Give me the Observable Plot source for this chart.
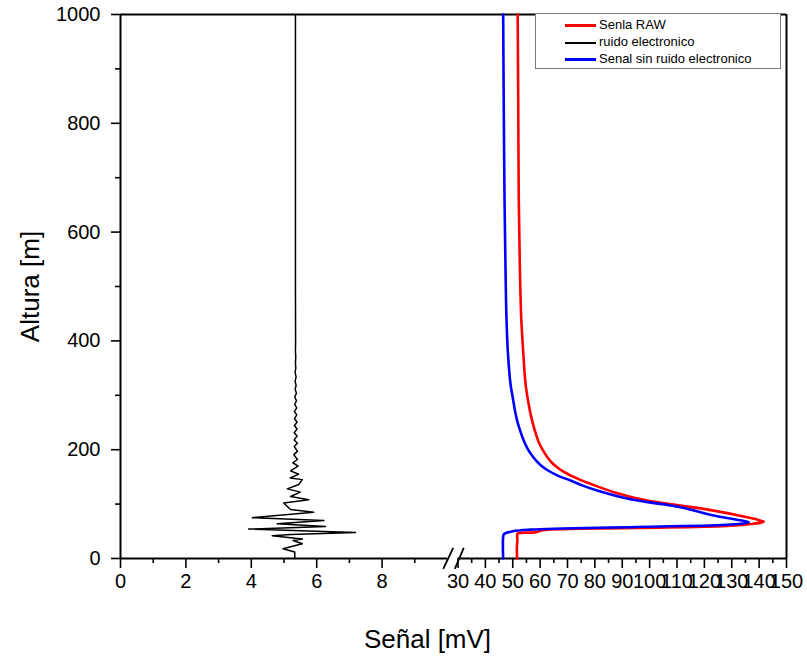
<!DOCTYPE html>
<html>
<head>
<meta charset="utf-8">
<script src="https://cdn.jsdelivr.net/npm/d3@7"></script>
<script src="https://cdn.jsdelivr.net/npm/@observablehq/plot@0.6"></script>
<style>
  body { margin: 0; background: #fff; }
  #wrap { position: relative; width: 807px; height: 660px; font-family: "Liberation Sans", Arial, sans-serif; color: #000; }
  .legend { position: absolute; left: 535px; top: 13px; width: 246px; height: 56px; border: 1px solid #7a7a7a; background: #fff; box-sizing: border-box; }
  .row { position: absolute; left: 29px; height: 16px; font-size: 13px; line-height: 16px; white-space: nowrap; }
  .row span.sw { display: inline-block; width: 31px; vertical-align: middle; margin-right: 3px; }
</style>
</head>
<body>
<div id="wrap"></div>
<script>
// ---- data ----
const seriesNames = ["Senla RAW", "ruido electronico", "Senal sin ruido electronico"];

const noiseY = [0, 5, 12, 18, 27, 33, 36, 42, 44, 48, 54, 59, 64, 70, 75, 85, 90, 102, 108, 114,
  122, 128, 136, 145, 148, 155, 161, 170, 176, 182, 191, 197, 206, 212, 218, 225, 231, 238, 244, 251, 257,
  264, 270, 277, 283, 290, 297, 304, 311, 318, 326, 334, 342, 350, 360, 370, 380, 400, 500, 700, 1000];
const noiseX = [5.33, 5.33, 5.33, 4.97, 5.56, 5.28, 5.56, 4.64, 5.21, 7.19, 3.92, 6.27, 4.79, 6.22, 4.03, 5.91, 5.2, 4.99, 5.76, 5.2,
  5.5, 5.1, 5.45, 5.56, 5.19, 5.45, 5.2, 5.43, 5.27, 5.41, 5.3, 5.41, 5.31, 5.41, 5.31, 5.40, 5.31, 5.40, 5.32, 5.40, 5.32,
  5.39, 5.32, 5.39, 5.33, 5.38, 5.33, 5.38, 5.34, 5.37, 5.34, 5.37, 5.34, 5.36, 5.35, 5.36, 5.35, 5.355, 5.35, 5.35, 5.35];

const redY = [0, 20, 35, 42, 46, 48, 52, 56, 60, 64, 67.6, 72, 76, 88, 97, 106.6, 121.9, 137.3, 145, 152.6, 160, 167.9, 176,
  186.4, 200, 213.8, 241.4, 265.9, 290, 320, 381, 442, 534, 658, 842, 1000];
const redX = [51.6, 51.5, 51.7, 51.6, 51.8, 58, 61, 95, 128, 138, 141.7, 139, 135.6, 123.4, 112, 99.1, 86.9, 78.4, 74.5, 71.1, 68.4, 66.2, 64.3,
  62.6, 60.9, 59.5, 57.7, 56.5, 55.6, 54.7, 53.8, 53.1, 52.6, 52.2, 52.0, 51.8];

const blueY = [0, 20, 40, 45, 50, 53, 58, 62.5, 66.8, 72, 79, 94.3, 108.8, 125, 134, 143.4, 152, 161.8, 172, 186.2, 200, 216.9, 235, 253.7, 272,
  290, 320, 381, 442.6, 534.5, 658, 842, 1000];
const blueX = [46.5, 46.4, 46.5, 46.8, 50, 56.5, 95, 129.5, 136.2, 131, 123.4, 111.3, 93.0, 80.8, 75.6, 71.1, 66.6, 62.9, 60.1, 57.5, 55.6, 54.0, 52.7, 51.6, 50.8,
  50.2, 49.2, 48.2, 47.7, 47.35, 47.0, 46.7, 46.5];

// axis ticks (broken x axis: 0–10 | 30–150)
const xMajorTicks = [0, 2, 4, 6, 8, 30, 40, 50, 60, 70, 80, 90, 100, 110, 120, 130, 140, 150];
const xMinorTicks = [1, 3, 5, 7, 9, 35, 45, 55, 65, 75, 85, 95, 105, 115, 125, 135, 145];
const yMajorTicks = [0, 200, 400, 600, 800, 1000];
const yMinorTicks = [100, 300, 500, 700, 900];
const xSegments = [[0, 10], [30, 150]];
const breakMarks = [
  {x1: 9.87, y1: -19, x2: 20.9, y2: 19.5},
  {x1: 23.9, y1: -19, x2: 32.1, y2: 19.5}
];

const zip = (xs, ys) => xs.map((v, i) => ({x: v, y: ys[i]}));
const red = zip(redX, redY);
const blue = zip(blueX, blueY);
const noise = zip(noiseX, noiseY);

const chart = Plot.plot({
  width: 807,
  height: 660,
  marginLeft: 120,
  marginRight: 21,
  marginTop: 14,
  marginBottom: 102,
  style: {fontFamily: "'Liberation Sans', Arial, sans-serif", fontSize: "20px", color: "#000", background: "#fff"},
  x: {type: "linear", domain: [0, 10, 30, 150], range: [120, 447, 457.5, 786]},
  y: {domain: [0, 1000]},
  marks: [
    // frame (top, left, right) and broken bottom axis
    Plot.ruleY([1000], {stroke: "#000", strokeWidth: 2}),
    Plot.ruleX([0, 150], {stroke: "#000", strokeWidth: 2}),
    Plot.ruleY(xSegments, {y: () => 0, x1: d => d[0], x2: d => d[1], stroke: "#000", strokeWidth: 2}),
    Plot.link(breakMarks, {x1: "x1", y1: "y1", x2: "x2", y2: "y2", stroke: "#000", strokeWidth: 1.8}),
    // axes
    Plot.axisX({ticks: xMajorTicks, tickFormat: d => String(d), tickSize: 10, tickPadding: 5, label: null, strokeWidth: 1.6, fill: "#000"}),
    Plot.axisX({ticks: xMinorTicks, tickSize: 5, text: null, label: null, strokeWidth: 1.6}),
    Plot.axisY({ticks: yMajorTicks, tickFormat: d => String(d), tickSize: 9, tickPadding: 11, label: null, strokeWidth: 1.6, fill: "#000"}),
    Plot.axisY({ticks: yMinorTicks, tickSize: 5, text: null, label: null, strokeWidth: 1.6}),
    // titles
    Plot.text(["Altura [m]"], {text: d => d, frameAnchor: "left", textAnchor: "middle", lineAnchor: "middle", rotate: -90, dx: -90, fontSize: 26, fill: "#000"}),
    Plot.text(["Señal [mV]"], {text: d => d, frameAnchor: "bottom", textAnchor: "middle", lineAnchor: "middle", dx: -26, dy: 81, fontSize: 26, fill: "#000"}),
    // data
    Plot.line(noise, {x: "x", y: "y", stroke: "#000", strokeWidth: 1.5}),
    Plot.line(red, {x: "x", y: "y", stroke: "#ff0000", strokeWidth: 2.6, curve: "catmull-rom"}),
    Plot.line(blue, {x: "x", y: "y", stroke: "#0000ff", strokeWidth: 2.6, curve: "catmull-rom"})
  ]
});

const wrap = document.getElementById("wrap");
wrap.appendChild(chart);

// legend
const legendColors = ["#ff0000", "#000000", "#0000ff"];
const legendWidths = [3, 2, 3];
const legend = document.createElement("div");
legend.className = "legend";
seriesNames.forEach((name, i) => {
  const row = document.createElement("div");
  row.className = "row";
  row.style.top = (3 + i * 17) + "px";
  const sw = document.createElement("span");
  sw.className = "sw";
  sw.style.height = legendWidths[i] + "px";
  sw.style.background = legendColors[i];
  row.appendChild(sw);
  row.appendChild(document.createTextNode(name));
  legend.appendChild(row);
});
wrap.appendChild(legend);
</script>
</body>
</html>
